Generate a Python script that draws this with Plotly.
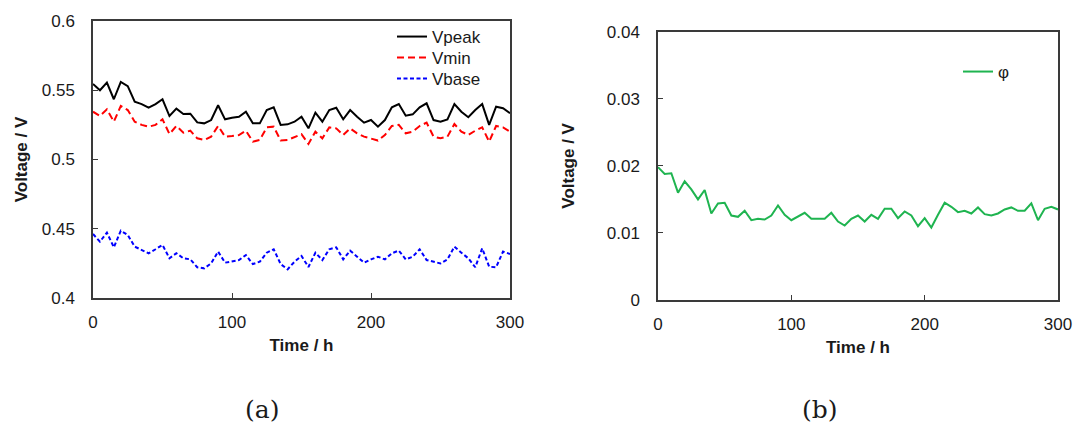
import plotly.graph_objects as go

time_h = [0, 5, 10, 15, 20, 25, 30, 35, 40, 45, 50, 55, 60, 65, 70, 75, 80, 85, 90, 95,
          100, 105, 110, 115, 120, 125, 130, 135, 140, 145, 150, 155, 160, 165, 170, 175,
          180, 185, 190, 195, 200, 205, 210, 215, 220, 225, 230, 235, 240, 245, 250, 255,
          260, 265, 270, 275, 280, 285, 290, 295, 300]

v_peak = [0.5545, 0.550, 0.5555, 0.5435, 0.556, 0.553, 0.5418, 0.540, 0.5374, 0.540,
          0.5435, 0.5314, 0.5367, 0.5329, 0.5331, 0.5268, 0.5261, 0.5285, 0.5392, 0.529,
          0.5302, 0.5309, 0.5345, 0.5261, 0.5261, 0.5357, 0.5377, 0.525, 0.5254, 0.5273,
          0.5309, 0.5225, 0.5338, 0.5273, 0.5357, 0.5374, 0.529, 0.5357, 0.5309, 0.5266,
          0.5285, 0.5237, 0.5285, 0.5377, 0.540, 0.5316, 0.5326, 0.5377, 0.5406, 0.5285,
          0.5273, 0.529, 0.540, 0.5345, 0.5305, 0.5357, 0.540, 0.525, 0.5381, 0.537, 0.5334]

v_min = [0.5345, 0.5314, 0.5362, 0.5273, 0.5387, 0.5357, 0.5273, 0.525, 0.5237, 0.525,
         0.529, 0.5184, 0.5242, 0.5194, 0.5208, 0.5153, 0.5141, 0.5165, 0.5242, 0.5165,
         0.517, 0.5177, 0.5208, 0.5129, 0.5141, 0.5232, 0.5237, 0.5137, 0.5141, 0.5165,
         0.5183, 0.5112, 0.5201, 0.5153, 0.5232, 0.5225, 0.5177, 0.5225, 0.5189, 0.5165,
         0.5153, 0.5137, 0.5177, 0.5242, 0.525, 0.5189, 0.5201, 0.5242, 0.5266, 0.5165,
         0.5153, 0.5165, 0.5256, 0.5201, 0.5177, 0.5208, 0.5232, 0.5129, 0.5242, 0.5232, 0.5201]

v_base = [0.4462, 0.4407, 0.4472, 0.4366, 0.4486, 0.4455, 0.4371, 0.4347, 0.4323, 0.4352,
          0.4383, 0.4287, 0.4323, 0.4287, 0.4279, 0.4222, 0.4214, 0.425, 0.4335, 0.4255,
          0.4262, 0.4274, 0.431, 0.4245, 0.4262, 0.4327, 0.4352, 0.4245, 0.4207, 0.4262,
          0.4303, 0.4224, 0.4327, 0.4274, 0.4352, 0.4366, 0.4279, 0.4342, 0.4298, 0.4255,
          0.4279, 0.4298, 0.4279, 0.4323, 0.4342, 0.4279, 0.4298, 0.4352, 0.4274, 0.4262,
          0.425, 0.4279, 0.4371, 0.4327, 0.4287, 0.4222, 0.4359, 0.4226, 0.4222, 0.4335, 0.4318]

phi = [0.0198, 0.0188, 0.0189, 0.0160, 0.0177, 0.0165, 0.0150, 0.0164, 0.0129, 0.0144,
       0.0145, 0.0126, 0.0124, 0.0133, 0.0119, 0.0121, 0.0120, 0.0126, 0.0141, 0.0127,
       0.0119, 0.0125, 0.0130, 0.0121, 0.0121, 0.0121, 0.0130, 0.0117, 0.0111, 0.0121,
       0.0126, 0.0117, 0.0127, 0.0121, 0.0136, 0.0136, 0.0122, 0.0132, 0.0126, 0.0110,
       0.0122, 0.0108, 0.0127, 0.0145, 0.0139, 0.0131, 0.0133, 0.0129, 0.0138, 0.0128,
       0.0126, 0.0129, 0.0135, 0.0138, 0.0133, 0.0133, 0.0144, 0.0119, 0.0136, 0.0139, 0.0135]

W, H = 1076, 427
FONT = "Liberation Sans, Arial, sans-serif"
AXC = "#3a3a3a"
TXT = "#1a1a1a"

fig = go.Figure()
fig.add_trace(go.Scatter(x=time_h, y=v_peak, mode="lines", name="Vpeak",
                         line=dict(color="#000000", width=2), xaxis="x", yaxis="y", legend="legend"))
fig.add_trace(go.Scatter(x=time_h, y=v_min, mode="lines", name="Vmin",
                         line=dict(color="#ff0000", width=2, dash="7px,4px"), xaxis="x", yaxis="y", legend="legend2"))
fig.add_trace(go.Scatter(x=time_h, y=v_base, mode="lines", name="Vbase",
                         line=dict(color="#0000ff", width=2, dash="4px,2.5px"), xaxis="x", yaxis="y", legend="legend3"))
fig.add_trace(go.Scatter(x=time_h, y=phi, mode="lines", name="φ",
                         line=dict(color="#1fb450", width=2), xaxis="x2", yaxis="y2", legend="legend4"))

def xax(domain, anchor):
    return dict(domain=domain, anchor=anchor, range=[0, 300], tickvals=[0, 100, 200, 300],
                ticks="inside", ticklen=5, tickcolor=AXC, showline=True, linecolor=AXC,
                linewidth=1.5, mirror=True, showgrid=False, zeroline=False, automargin=False,
                tickfont=dict(family=FONT, size=17, color=TXT), ticklabelstandoff=8,
                title=dict(text="<b>Time / h</b>", font=dict(family=FONT, size=17, color=TXT), standoff=8))

def yax(domain, anchor, rng, dtick, standoff):
    return dict(domain=domain, anchor=anchor, range=rng, dtick=dtick,
                ticks="inside", ticklen=5, tickcolor=AXC, showline=True, linecolor=AXC,
                linewidth=1.5, mirror=True, showgrid=False, zeroline=False, automargin=False,
                tickfont=dict(family=FONT, size=17, color=TXT), ticklabelstandoff=13,
                title=dict(text="<b>Voltage / V</b>", font=dict(family=FONT, size=17, color=TXT),
                           standoff=standoff))

def leg(x, y):
    return dict(x=x / W, y=1 - y / H, xanchor="left", yanchor="middle", bgcolor="rgba(0,0,0,0)",
                font=dict(family=FONT, size=17, color=TXT), itemwidth=30)

fig.update_layout(
    width=W, height=H, margin=dict(l=0, r=0, t=0, b=0, autoexpand=False),
    paper_bgcolor="white", plot_bgcolor="white",
    xaxis=xax([93 / W, 510 / W], "y"),
    yaxis=yax([1 - 298 / H, 1 - 21 / H], "x", [0.4, 0.6], 0.05, 10),
    xaxis2=xax([658 / W, 1058 / W], "y2"),
    yaxis2=yax([1 - 300 / H, 1 - 31.7 / H], "x2", [0, 0.04], 0.01, 28),
    legend=leg(392, 37),
    legend2=leg(392, 58),
    legend3=leg(392, 79),
    legend4=leg(958, 72),
    annotations=[
        dict(text="(a)", x=262 / W, y=1 - 409 / H, xref="paper", yref="paper", showarrow=False,
             xanchor="center", yanchor="middle", font=dict(family="DejaVu Serif, serif", size=25, color=TXT)),
        dict(text="(b)", x=820 / W, y=1 - 409 / H, xref="paper", yref="paper", showarrow=False,
             xanchor="center", yanchor="middle", font=dict(family="DejaVu Serif, serif", size=25, color=TXT)),
    ],
    showlegend=True,
)

fig.write_html("out.html")
